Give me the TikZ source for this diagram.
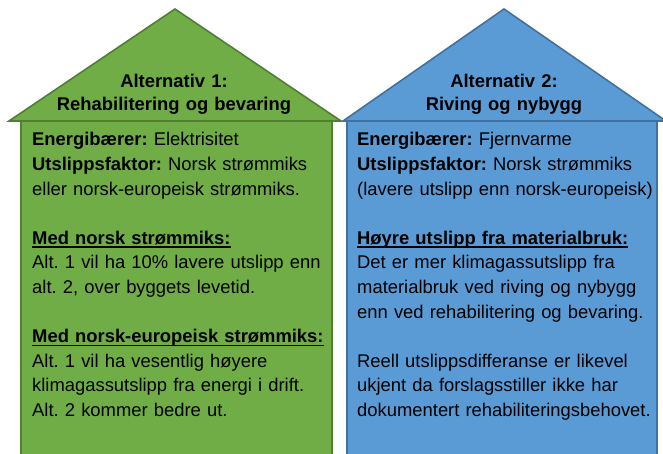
\documentclass[tikz,border=0pt]{standalone}
\usepackage{fontspec}
\setmainfont{Liberation Sans}
\frenchspacing
\definecolor{gfill}{HTML}{70AD47}
\definecolor{gline}{HTML}{507E32}
\definecolor{bfill}{HTML}{5B9BD5}
\definecolor{bline}{HTML}{41719C}
\newcommand{\hd}[1]{\leavevmode\setbox0\hbox{\bfseries #1}\rlap{\rule[-3.6pt]{\wd0}{1.7pt}}\box0}
\begin{document}
\begin{tikzpicture}[x=1pt,y=-1pt,line join=miter]
\useasboundingbox (0,0) rectangle (663,454);
\clip (0,0) rectangle (663,454);
\tikzset{
  houseline/.style={line width=1.6pt},
  bodytext/.style={anchor=base west, inner sep=0pt, text width=305pt, align=left,
    font=\fontsize{18.4pt}{24.6pt}\selectfont\frenchspacing},
  titletext/.style={anchor=base, inner sep=0pt, text width=300pt, align=center,
    font=\fontsize{18.4pt}{23pt}\selectfont\bfseries}
}
% green house
\draw[houseline, fill=gfill, draw=gline] (21,121) rectangle (332,470);
\draw[houseline, fill=gfill, draw=gline] (9,121) -- (175,9) -- (341,121) -- cycle;
% blue house
\draw[houseline, fill=bfill, draw=bline] (347,121) rectangle (657,470);
\draw[houseline, fill=bfill, draw=bline] (343,121) -- (504,9) -- (666,121) -- cycle;

\node[titletext] (t1) at (174,87.3) {Alternativ 1:\\Rehabilitering og bevaring};
\node[titletext] (t2) at (504,87.3) {Alternativ 2:\\Riving og nybygg};

\node[bodytext] (b1) at (32,146) {\textbf{Energibærer:} Elektrisitet\\
\textbf{Utslippsfaktor:} Norsk strømmiks\\
eller norsk-europeisk strømmiks.\\[24.6pt]
\hd{Med norsk strømmiks:}\\
Alt. 1 vil ha 10\% lavere utslipp enn\\
alt. 2, over byggets levetid.\\[24.6pt]
\hd{Med norsk-europeisk strømmiks:}\\
Alt. 1 vil ha vesentlig høyere\\
klimagassutslipp fra energi i drift.\\
Alt. 2 kommer bedre ut.};

\node[bodytext] (b2) at (357,146) {\textbf{Energibærer:} Fjernvarme\\
\textbf{Utslippsfaktor:} Norsk strømmiks\\
(lavere utslipp enn norsk-europeisk)\\[24.6pt]
\hd{Høyre utslipp fra materialbruk:}\\
Det er mer klimagassutslipp fra\\
materialbruk ved riving og nybygg\\
enn ved rehabilitering og bevaring.\\[24.6pt]
Reell utslippsdifferanse er likevel\\
ukjent da forslagsstiller ikke har\\
dokumentert rehabiliteringsbehovet.};
\end{tikzpicture}
\end{document}
